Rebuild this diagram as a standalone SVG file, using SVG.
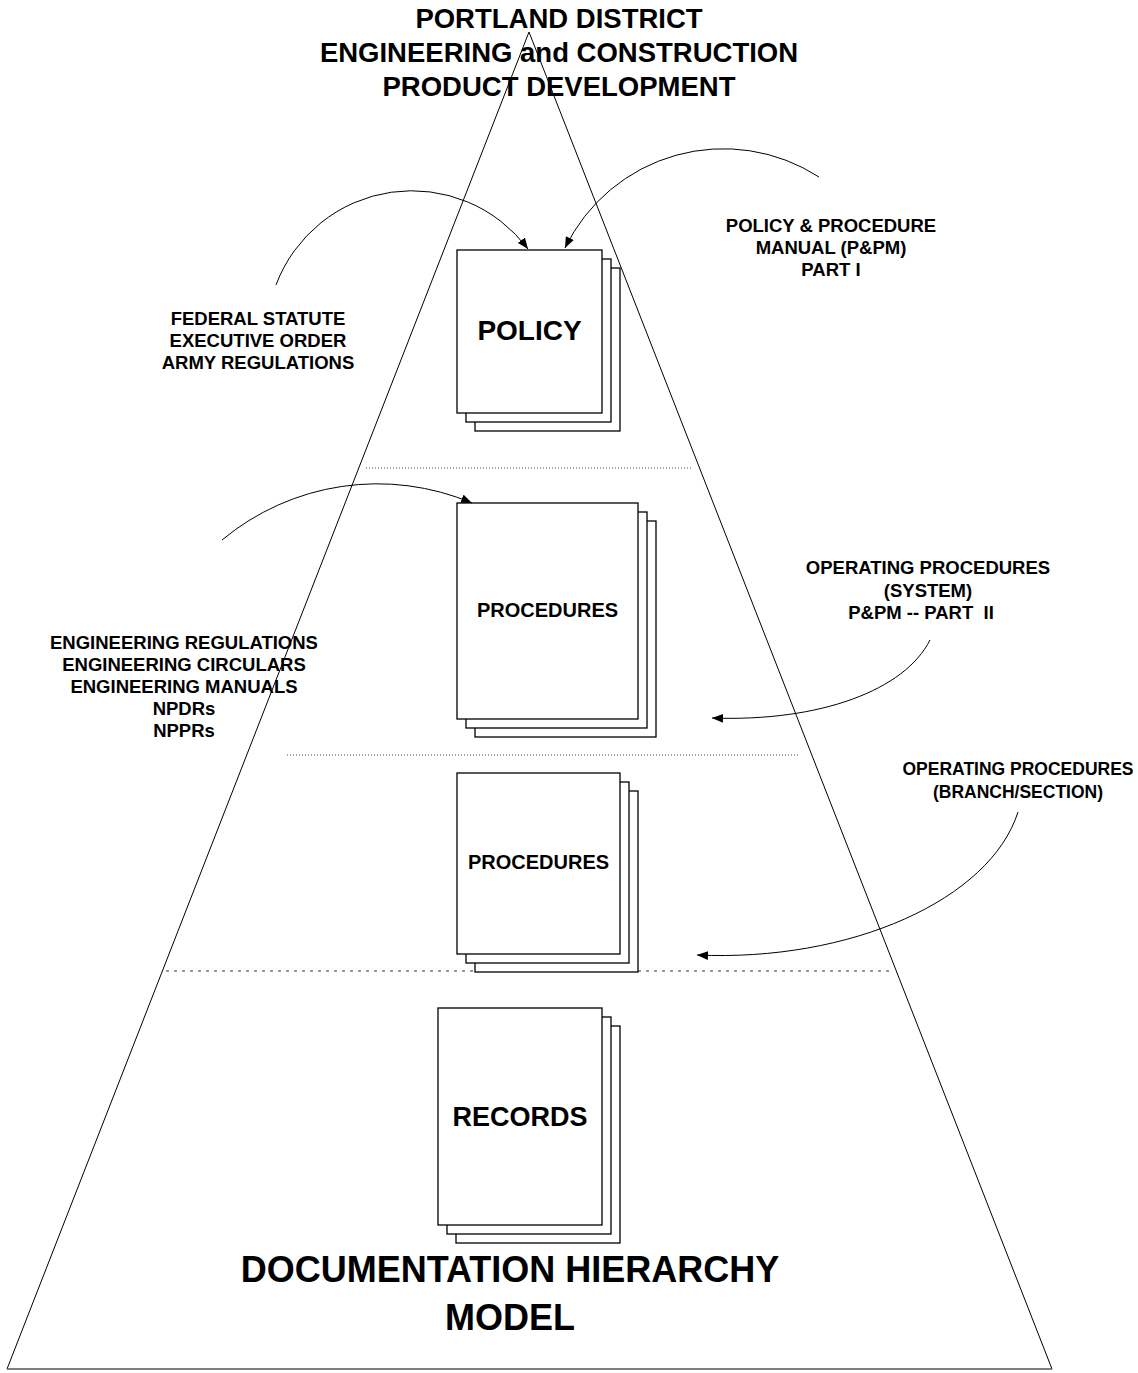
<svg xmlns="http://www.w3.org/2000/svg" width="1138" height="1373" viewBox="0 0 1138 1373">
  <style>
    text { font-family: "Liberation Sans", Arial, sans-serif; font-weight: bold; fill: #000; text-anchor: middle; }
    .title { font-size: 27.5px; }
    .big { font-size: 36px; }
    .lbl { font-size: 18.5px; }
    .lbl-sm { font-size: 17.5px; }
    .sheet { fill: #fff; stroke: #000; stroke-width: 1.3; }
    .edge { fill: none; stroke: #000; stroke-width: 1; }
    .base { fill: none; stroke: #555; stroke-width: 1.6; }
    .fine { stroke: #444; stroke-width: 1; stroke-dasharray: 1 2; }
    .coarse { stroke: #333; stroke-width: 1.2; stroke-dasharray: 3 5; }
    .arc { fill: none; stroke: #000; stroke-width: 1; marker-end: url(#head); }
  </style>
  <defs>
    <marker id="head" viewBox="0 0 10 8" refX="10" refY="4" markerWidth="11" markerHeight="9" markerUnits="userSpaceOnUse" orient="auto">
      <path d="M0,0 L10,4 L0,8 Z" fill="#000"/>
    </marker>
  </defs>
  <rect width="1138" height="1373" fill="#fff"/>

  <!-- pyramid outline -->
  <g id="pyramid">
    <path class="edge" d="M7,1369 L529,32 L1052,1369"/>
    <line class="base" x1="7" y1="1369" x2="1052" y2="1369"/>
  </g>

  <!-- level dividers -->
  <g id="dividers">
    <line class="fine" x1="366" y1="468" x2="693" y2="468"/>
    <line class="fine" x1="287" y1="755" x2="800" y2="755"/>
    <line class="coarse" x1="166" y1="971" x2="890" y2="971"/>
  </g>

  <!-- heading -->
  <g id="heading">
    <text class="title" x="559" y="28">PORTLAND DISTRICT</text>
    <text class="title" x="559" y="62">ENGINEERING and CONSTRUCTION</text>
    <text class="title" x="559" y="96">PRODUCT DEVELOPMENT</text>
  </g>

  <!-- document stacks -->
  <g id="policy">
    <rect class="sheet" x="475" y="268" width="145" height="163"/>
    <rect class="sheet" x="466" y="259" width="145" height="163"/>
    <rect class="sheet" x="457" y="250" width="145" height="163"/>
    <text x="529.5" y="340" style="font-size:28px">POLICY</text>
  </g>
  <g id="procedures-system">
    <rect class="sheet" x="475" y="521" width="181" height="216"/>
    <rect class="sheet" x="466" y="512" width="181" height="216"/>
    <rect class="sheet" x="457" y="503" width="181" height="216"/>
    <text x="547.5" y="617" style="font-size:20px">PROCEDURES</text>
  </g>
  <g id="procedures-branch">
    <rect class="sheet" x="475" y="791" width="163" height="181"/>
    <rect class="sheet" x="466" y="782" width="163" height="181"/>
    <rect class="sheet" x="457" y="773" width="163" height="181"/>
    <text x="538.5" y="869" style="font-size:20px">PROCEDURES</text>
  </g>
  <g id="records">
    <rect class="sheet" x="456" y="1026" width="164" height="217"/>
    <rect class="sheet" x="447" y="1017" width="164" height="217"/>
    <rect class="sheet" x="438" y="1008" width="164" height="217"/>
    <text x="520" y="1126" style="font-size:27px">RECORDS</text>
  </g>

  <!-- source labels -->
  <g id="label-pm1">
    <text class="lbl" x="831" y="232">POLICY &amp; PROCEDURE</text>
    <text class="lbl" x="831" y="254">MANUAL (P&amp;PM)</text>
    <text class="lbl" x="831" y="276">PART I</text>
  </g>
  <g id="label-federal">
    <text class="lbl" x="258" y="325">FEDERAL STATUTE</text>
    <text class="lbl" x="258" y="347">EXECUTIVE ORDER</text>
    <text class="lbl" x="258" y="369">ARMY REGULATIONS</text>
  </g>
  <g id="label-system">
    <text class="lbl" x="928" y="574">OPERATING PROCEDURES</text>
    <text class="lbl" x="928" y="597">(SYSTEM)</text>
    <text class="lbl" x="921" y="619" xml:space="preserve">P&amp;PM -- PART  II</text>
  </g>
  <g id="label-engineering">
    <text class="lbl" x="184" y="649">ENGINEERING REGULATIONS</text>
    <text class="lbl" x="184" y="671">ENGINEERING CIRCULARS</text>
    <text class="lbl" x="184" y="693">ENGINEERING MANUALS</text>
    <text class="lbl" x="184" y="715">NPDRs</text>
    <text class="lbl" x="184" y="737">NPPRs</text>
  </g>
  <g id="label-branch">
    <text class="lbl-sm" x="1018" y="775">OPERATING PROCEDURES</text>
    <text class="lbl-sm" x="1018" y="798">(BRANCH/SECTION)</text>
  </g>

  <!-- model caption -->
  <g id="caption">
    <text class="big" x="510" y="1282">DOCUMENTATION HIERARCHY</text>
    <text class="big" x="510" y="1330">MODEL</text>
  </g>

  <!-- connectors -->
  <g id="connectors">
    <path class="arc" d="M276,285 A145,145 0 0 1 528,249"/>
    <path class="arc" d="M819,177 A176,176 0 0 0 565,248"/>
    <path class="arc" d="M222,540 A243,243 0 0 1 472,503"/>
    <path class="arc" d="M930,640 C905,690 820,722 712,718"/>
    <path class="arc" d="M1018,812 C990,900 850,962 697,955"/>
  </g>
</svg>
